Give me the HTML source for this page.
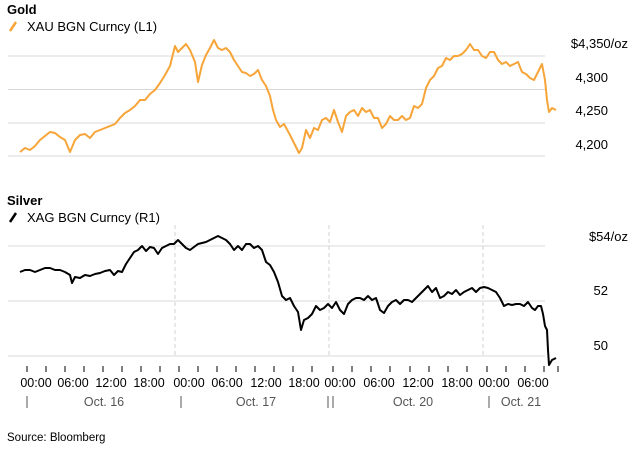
<!DOCTYPE html>
<html><head><meta charset="utf-8"><style>
html,body{margin:0;padding:0;background:#fff;}
svg text{font-family:"Liberation Sans",sans-serif;}
</style></head><body>
<svg width="636" height="450" viewBox="0 0 636 450" xmlns="http://www.w3.org/2000/svg">
<text x="7" y="14" font-size="13" font-weight="bold" fill="#000">Gold</text>
<line x1="10" y1="31" x2="16" y2="22" stroke="#f7a539" stroke-width="2.5"/>
<text x="27" y="31" font-size="13" fill="#000">XAU BGN Curncy (L1)</text>
<g stroke="#d8d8d8" stroke-width="1">
<line x1="8" y1="56" x2="545" y2="56"/><line x1="8" y1="89.5" x2="545" y2="89.5"/>
<line x1="8" y1="123" x2="545" y2="123"/><line x1="8" y1="156" x2="545" y2="156"/>
</g>
<g font-size="13" fill="#000" text-anchor="end">
<text x="628" y="48">$4,350/oz</text><text x="608" y="82">4,300</text>
<text x="608" y="115">4,250</text><text x="608" y="149">4,200</text>
</g>
<polyline fill="none" stroke="#f7a539" stroke-width="2" stroke-linejoin="round" points="20,152 25,148 30,150 35,146 40,140 45,136 50,132 55,133 60,137 65,140 70,152 75,140 80,135 85,134 90,138 95,132 100,130 105,128 110,126 115,124 120,118 125,113 130,110 135,106 140,100 145,100 150,94 155,90 160,83 165,75 170,66 175,46 178,52 182,48 186,44 190,50 195,62 198,82 202,65 206,55 210,48 214,40 218,48 222,50 226,48 230,52 234,60 238,66 242,72 246,73 250,76 254,74 258,70 262,80 266,86 270,96 273,110 276,120 280,127 284,124 290,135 295,145 299,153 302,148 306,130 310,138 314,128 318,130 322,120 326,118 330,122 334,110 338,122 342,132 346,116 350,112 354,110 358,116 362,108 366,112 370,110 374,118 378,118 382,128 386,124 390,116 394,120 398,120 402,116 406,120 410,118 414,106 418,108 422,104 426,88 430,80 434,76 438,68 442,66 446,58 450,60 454,56 458,56 462,54 466,50 470,44 474,50 478,50 482,56 486,58 490,52 494,52 498,60 502,64 506,62 510,66 514,64 518,62 522,72 526,74 530,78 534,80 538,72 542,64 545,80 547,100 549,112 552,108 556,110"/>

<text x="7" y="205" font-size="13" font-weight="bold" fill="#000">Silver</text>
<line x1="10" y1="222" x2="16" y2="213" stroke="#000" stroke-width="2.5"/>
<text x="27" y="222" font-size="13" fill="#000">XAG BGN Curncy (R1)</text>
<g stroke="#d8d8d8" stroke-width="1">
<line x1="8" y1="246" x2="545" y2="246"/><line x1="8" y1="301" x2="545" y2="301"/><line x1="8" y1="356" x2="545" y2="356"/>
</g>
<g stroke="#d0d0d0" stroke-width="1" stroke-dasharray="4,3">
<line x1="175" y1="225" x2="175" y2="358"/><line x1="329" y1="225" x2="329" y2="358"/><line x1="483" y1="225" x2="483" y2="358"/>
</g>
<g font-size="13" fill="#000" text-anchor="end">
<text x="628" y="241">$54/oz</text><text x="608" y="295">52</text><text x="608" y="350">50</text>
</g>
<polyline fill="none" stroke="#000" stroke-width="2" stroke-linejoin="round" points="20,272 25,270 30,270 35,272 40,270 45,268 50,268 55,270 60,270 65,272 70,275 72,283 75,277 80,278 85,275 90,276 95,274 100,273 105,271 110,270 114,275 118,271 122,272 126,264 130,258 134,252 138,250 142,246 146,251 150,247 154,248 158,254 162,248 166,246 170,244 174,244 178,240 182,244 186,248 190,250 194,247 198,244 202,243 206,242 210,240 214,238 218,236 222,238 226,240 230,244 234,250 238,246 242,250 246,244 250,244 254,248 258,246 262,250 266,262 270,265 274,272 278,282 282,296 286,300 290,298 294,306 298,312 301,330 304,320 308,318 312,314 316,306 320,310 324,308 328,304 332,308 336,302 340,310 344,314 348,304 352,300 356,298 360,298 364,300 368,296 372,300 376,298 380,310 384,313 388,306 392,302 396,300 400,304 404,300 408,300 412,302 416,298 420,294 424,290 428,286 432,292 436,288 440,298 444,296 448,292 452,294 456,290 460,295 464,292 468,290 472,288 476,292 480,288 484,287 488,288 492,290 496,292 500,298 504,306 508,304 512,305 516,304 520,304 524,306 528,302 532,308 535,310 538,306 541,306 543,314 545,326 547,330 548,350 549,365 552,360 556,358"/>

<g stroke="#000" stroke-width="1">
<line x1="27" y1="366" x2="27" y2="372"/><line x1="46" y1="366" x2="46" y2="372"/><line x1="65" y1="366" x2="65" y2="372"/><line x1="84" y1="366" x2="84" y2="372"/><line x1="103" y1="366" x2="103" y2="372"/><line x1="122" y1="366" x2="122" y2="372"/><line x1="141" y1="366" x2="141" y2="372"/><line x1="160" y1="366" x2="160" y2="372"/>
<line x1="179" y1="366" x2="179" y2="372"/><line x1="198" y1="366" x2="198" y2="372"/><line x1="217" y1="366" x2="217" y2="372"/><line x1="236" y1="366" x2="236" y2="372"/><line x1="255" y1="366" x2="255" y2="372"/><line x1="274" y1="366" x2="274" y2="372"/><line x1="293" y1="366" x2="293" y2="372"/><line x1="312" y1="366" x2="312" y2="372"/>
<line x1="333" y1="366" x2="333" y2="372"/><line x1="352" y1="366" x2="352" y2="372"/><line x1="371" y1="366" x2="371" y2="372"/><line x1="390" y1="366" x2="390" y2="372"/><line x1="410" y1="366" x2="410" y2="372"/><line x1="429" y1="366" x2="429" y2="372"/><line x1="448" y1="366" x2="448" y2="372"/><line x1="467" y1="366" x2="467" y2="372"/>
<line x1="487" y1="366" x2="487" y2="372"/><line x1="506" y1="366" x2="506" y2="372"/><line x1="525" y1="366" x2="525" y2="372"/><line x1="544" y1="366" x2="544" y2="372"/><line x1="558" y1="366" x2="558" y2="372"/>
</g>
<g font-size="12.5" fill="#000" text-anchor="middle">
<text x="36" y="387">00:00</text><text x="73" y="387">06:00</text><text x="111" y="387">12:00</text><text x="149" y="387">18:00</text>
<text x="189" y="387">00:00</text><text x="227" y="387">06:00</text><text x="266" y="387">12:00</text><text x="304" y="387">18:00</text>
<text x="340" y="387">00:00</text><text x="379" y="387">06:00</text><text x="418" y="387">12:00</text><text x="457" y="387">18:00</text>
<text x="494" y="387">00:00</text><text x="533" y="387">06:00</text>
</g>
<g stroke="#555" stroke-width="1">
<line x1="27" y1="396" x2="27" y2="408"/><line x1="181" y1="396" x2="181" y2="408"/><line x1="328" y1="396" x2="328" y2="408"/><line x1="333" y1="396" x2="333" y2="408"/><line x1="489" y1="396" x2="489" y2="408"/>
</g>
<g font-size="12.5" fill="#555" text-anchor="middle">
<text x="104" y="406">Oct. 16</text><text x="256" y="406">Oct. 17</text><text x="413" y="406">Oct. 20</text><text x="521" y="406">Oct. 21</text>
</g>
<text x="7" y="441" font-size="11.5" fill="#000">Source: Bloomberg</text>
</svg>
</body></html>
